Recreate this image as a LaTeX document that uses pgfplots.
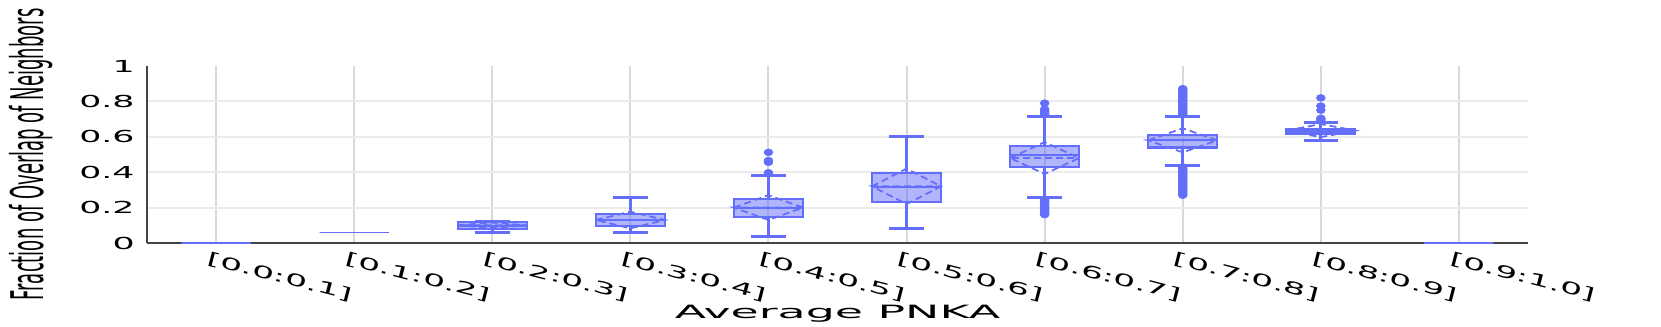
\documentclass[border=0pt]{standalone}
\usepackage{pgfplots}
\pgfplotsset{compat=1.18}
\usepgfplotslibrary{statistics}
\usepackage{fontspec}
\setmainfont{DejaVu Sans}
\newfontfamily\ticfont[FakeStretch=2.1]{DejaVu Sans}
\newfontfamily\xlfont[FakeStretch=2.5]{DejaVu Sans}
\newfontfamily\ylfont[FakeStretch=0.4]{DejaVu Sans}
\definecolor{pb}{HTML}{636EFA}
\definecolor{vgrid}{HTML}{D9D9D9}
\definecolor{hgrid}{HTML}{EBEBEB}
\definecolor{axl}{HTML}{444444}

\pgfplotsset{
  pbplot/.style={draw=pb, line width=1.1bp, solid,
    mark=*, mark size=1.7bp,
    mark options={fill=pb, draw=pb, line width=0.3bp, xscale=1.3},
    boxplot/draw direction=y,
    boxplot/box extend=0.5, boxplot/whisker extend=0.25,
    boxplot/every box/.style={fill=pb, fill opacity=0.5, draw=pb},
    boxplot/every whisker/.style={line width=1.4bp},
    boxplot/every median/.style={line width=1.1bp}},
  flatbox/.style={pbplot, line width=0.6bp,
    boxplot/every whisker/.style={draw=none},
    boxplot/every median/.style={line width=0.6bp}},
  sdline/.style={draw=pb, line width=0.9bp, dashed, dash pattern=on 3.5bp off 2bp, mark=none},
}

\begin{document}
\begin{tikzpicture}
\begin{axis}[
  width=690.5bp, height=88.5bp, scale only axis,
  xmin=-0.5, xmax=9.5, ymin=0, ymax=1,
  clip=false,
  axis x line*=bottom, axis y line*=left,
  axis line style={-, draw=axl, line width=1bp},
  xtick={0,...,9},
  xticklabels={{[0.0:0.1]},{[0.1:0.2]},{[0.2:0.3]},{[0.3:0.4]},{[0.4:0.5]},
               {[0.5:0.6]},{[0.6:0.7]},{[0.7:0.8]},{[0.8:0.9]},{[0.9:1.0]}},
  ytick={0,0.2,0.4,0.6,0.8},
  extra y ticks={1},
  extra y tick style={grid=none},
  major tick length=0pt,
  xmajorgrids, ymajorgrids,
  x grid style={draw=vgrid, line width=1bp},
  y grid style={draw=hgrid, line width=1bp},
  /pgf/number format/assume math mode=true,
  xticklabel style={font=\ticfont\fontsize{8.3}{10}\selectfont,
    anchor=north west, inner sep=0pt, xshift=-3.5bp, yshift=-4bp, rotate=-14.4},
  yticklabel style={font=\ticfont\fontsize{8.3}{10}\selectfont, anchor=east,
    inner sep=0pt, xshift=-6bp},
  xlabel={Average PNKA},
  ylabel={Fraction of Overlap of Neighbors},
  xlabel style={font=\xlfont\fontsize{9.2}{11}\selectfont,
    at={(axis description cs:0.5,0)}, anchor=base, inner sep=0pt, yshift=-37.5bp},
  ylabel style={font=\ylfont\fontsize{22.6}{24}\selectfont,
    at={(axis description cs:-0.1002,0.5)}, anchor=north, inner sep=0pt},
]

% [0.0:0.1]
\addplot[flatbox, boxplot prepared={draw position=0,
  lower whisker=0, lower quartile=0, median=0, upper quartile=0, upper whisker=0}]
  coordinates {};
% [0.1:0.2]
\addplot[flatbox, boxplot prepared={draw position=1,
  lower whisker=0.06, lower quartile=0.06, median=0.06, upper quartile=0.06, upper whisker=0.06}]
  coordinates {};
% [0.2:0.3]
\addplot[pbplot, boxplot prepared={draw position=2,
  lower whisker=0.058, lower quartile=0.079, median=0.098, upper quartile=0.12, upper whisker=0.12}]
  coordinates {};
\addplot[sdline] coordinates {(1.75,0.10) (2,0.115) (2.25,0.10) (2,0.085) (1.75,0.10) (2.25,0.10)};
% [0.3:0.4]
\addplot[pbplot, boxplot prepared={draw position=3,
  lower whisker=0.058, lower quartile=0.094, median=0.13, upper quartile=0.162, upper whisker=0.256}]
  coordinates {};
\addplot[sdline] coordinates {(2.75,0.13) (3,0.177) (3.25,0.13) (3,0.083) (2.75,0.13) (3.25,0.13)};
% [0.4:0.5]
\addplot[pbplot, boxplot prepared={draw position=4,
  lower whisker=0.036, lower quartile=0.145, median=0.196, upper quartile=0.247, upper whisker=0.38}]
  table[row sep=\\, y index=0] {y\\ 0.397\\ 0.456\\ 0.466\\ 0.512\\};
\addplot[sdline] coordinates {(3.75,0.20) (4,0.27) (4.25,0.20) (4,0.13) (3.75,0.20) (4.25,0.20)};
% [0.5:0.6]
\addplot[pbplot, boxplot prepared={draw position=5,
  lower whisker=0.083, lower quartile=0.233, median=0.318, upper quartile=0.394, upper whisker=0.60}]
  coordinates {};
\addplot[sdline] coordinates {(4.75,0.32) (5,0.42) (5.25,0.32) (5,0.22) (4.75,0.32) (5.25,0.32)};
% [0.6:0.7]
\addplot[pbplot, boxplot prepared={draw position=6,
  lower whisker=0.256, lower quartile=0.428, median=0.495, upper quartile=0.546, upper whisker=0.716}]
  table[row sep=\\, y index=0] {y\\ 0.724\\ 0.732\\ 0.740\\ 0.748\\ 0.756\\ 0.79\\
    0.248\\ 0.240\\ 0.232\\ 0.224\\ 0.216\\ 0.208\\ 0.200\\ 0.192\\ 0.184\\ 0.176\\ 0.168\\ 0.160\\};
\addplot[sdline] coordinates {(5.75,0.48) (6,0.57) (6.25,0.48) (6,0.39) (5.75,0.48) (6.25,0.48)};
% [0.7:0.8]
\addplot[pbplot, boxplot prepared={draw position=7,
  lower whisker=0.437, lower quartile=0.539, median=0.582, upper quartile=0.61, upper whisker=0.716}]
  table[row sep=\\, y index=0] {y\\ 0.724\\ 0.732\\ 0.740\\ 0.748\\ 0.756\\ 0.764\\ 0.772\\ 0.780\\
    0.788\\ 0.796\\ 0.804\\ 0.812\\ 0.820\\ 0.828\\ 0.836\\ 0.844\\ 0.852\\ 0.860\\ 0.868\\ 0.872\\
    0.430\\ 0.422\\ 0.414\\ 0.406\\ 0.398\\ 0.390\\ 0.382\\ 0.374\\ 0.366\\ 0.358\\ 0.350\\ 0.342\\
    0.334\\ 0.326\\ 0.318\\ 0.310\\ 0.302\\ 0.294\\ 0.286\\ 0.278\\ 0.270\\};
\addplot[sdline] coordinates {(6.75,0.58) (7,0.648) (7.25,0.58) (7,0.512) (6.75,0.58) (7.25,0.58)};
% [0.8:0.9]
\addplot[pbplot, boxplot prepared={draw position=8,
  lower whisker=0.578, lower quartile=0.614, median=0.63, upper quartile=0.642, upper whisker=0.681}]
  table[row sep=\\, y index=0] {y\\ 0.69\\ 0.70\\ 0.705\\ 0.75\\ 0.774\\ 0.82\\};
\addplot[sdline] coordinates {(7.75,0.635) (8,0.672) (8.25,0.635) (8,0.598) (7.75,0.635) (8.25,0.635)};
% [0.9:1.0]
\addplot[flatbox, boxplot prepared={draw position=9,
  lower whisker=0, lower quartile=0, median=0, upper quartile=0, upper whisker=0}]
  coordinates {};

\end{axis}
\pgfresetboundingbox
\path[use as bounding box] ([shift={(-73.5bp,-42bp)}]current axis.south west)
  rectangle ([shift={(66.5bp,33bp)}]current axis.north east);
\end{tikzpicture}
\end{document}
